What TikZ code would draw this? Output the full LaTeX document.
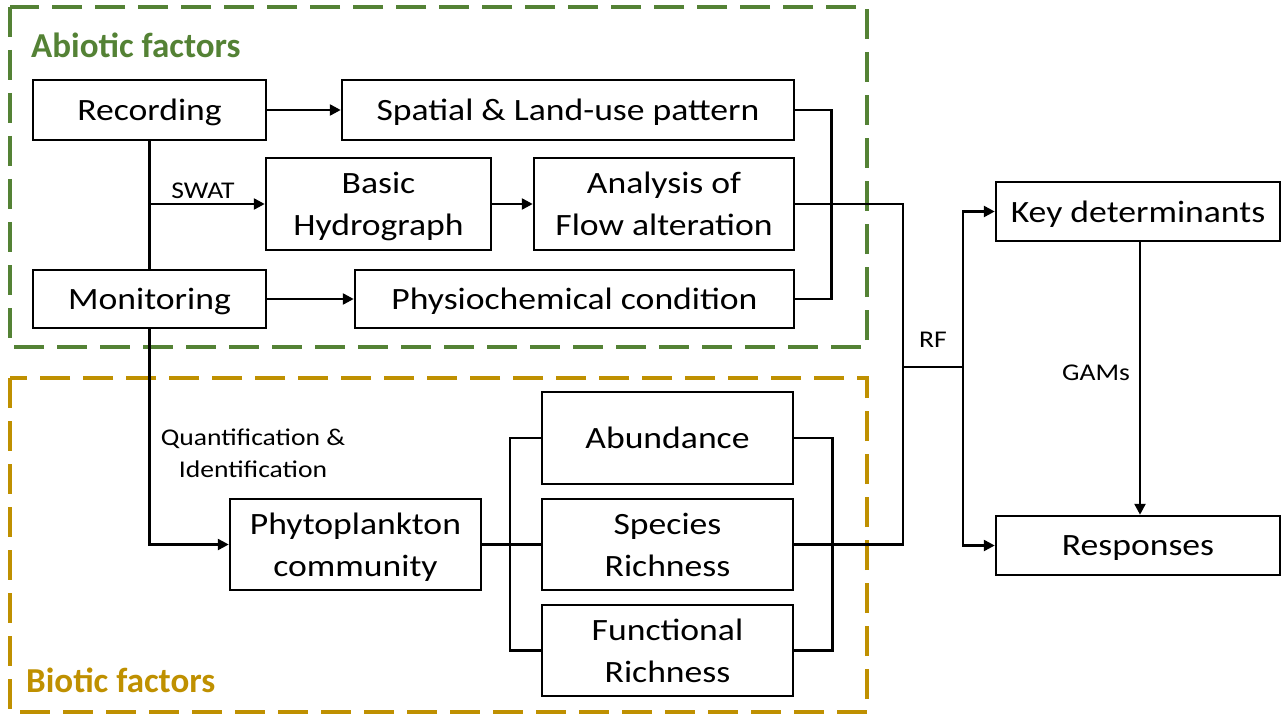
\documentclass[tikz,border=0pt]{standalone}
\usepackage{fontspec}
\setmainfont[FakeStretch=1.15]{Carlito}
\newfontfamily\titlefont{Carlito}
\usetikzlibrary{arrows.meta}
\definecolor{abio}{HTML}{548235}
\definecolor{bio}{HTML}{BF9000}
\tikzset{
  box/.style={draw=black, line width=2.5pt, fill=white, align=center, inner sep=0pt,
    font=\fontsize{31}{42}\selectfont, text depth=0pt},
  conn/.style={line width=2.5pt},
  arr/.style={line width=2.5pt, -{Triangle[length=11pt,width=11pt]}},
  lbl/.style={font=\fontsize{24}{32}\selectfont, inner sep=0pt, align=center},
  frame/.style={line width=3.5pt, dash pattern=on 30pt off 13pt},
  title/.style={font=\titlefont\fontsize{35}{40}\selectfont\bfseries, inner sep=0pt, anchor=west}
}
\begin{document}
\begin{tikzpicture}[x=1pt,y=-1pt]
\useasboundingbox (0,0) rectangle (1282,714);
% frames
\draw[frame, abio] (10,7) rectangle (867,347);
\draw[frame, bio] (10,378) rectangle (867,712);
\node[title, text=abio] (tabio) at (31,45) {Abiotic factors};
\node[title, text=bio] (tbio) at (26,680) {Biotic factors};
% boxes
\node[box, minimum width=233pt, minimum height=60pt] (rec) at (149.5,110) {Recording};
\node[box, minimum width=452pt, minimum height=60pt] (spatial) at (568,110) {Spatial \& Land-use pattern};
\node[box, minimum width=225pt, minimum height=92pt] (hydro) at (378.5,204) {Basic\\Hydrograph};
\node[box, minimum width=260pt, minimum height=92pt] (flow) at (664,204) {Analysis of\\Flow alteration};
\node[box, minimum width=233pt, minimum height=58pt] (mon) at (149.5,299) {Monitoring};
\node[box, minimum width=439pt, minimum height=58pt] (phys) at (574.5,299) {Physiochemical condition};
\node[box, minimum width=251pt, minimum height=91pt] (phyto) at (355.5,544.5) {Phytoplankton\\community};
\node[box, minimum width=251pt, minimum height=92pt] (abund) at (667.5,438) {Abundance};
\node[box, minimum width=251pt, minimum height=91pt] (species) at (667.5,544.5) {Species\\Richness};
\node[box, minimum width=251pt, minimum height=91pt] (func) at (667.5,650.5) {Functional\\Richness};
\node[box, minimum width=284pt, minimum height=59pt] (key) at (1138,211.5) {Key determinants};
\node[box, minimum width=284pt, minimum height=59pt] (resp) at (1138,545.5) {Responses};
% labels
\node[lbl] (lswat) at (203,191) {SWAT};
\node[lbl] (lquant) at (253,453) {Quantification \&\\Identification};
\node[lbl] (lrf) at (933,340) {RF};
\node[lbl] (lgam) at (1096,373) {GAMs};
% junctions
\coordinate (j) at (903,367);
\coordinate (k) at (963,367);
% abiotic connectors
\draw[conn] (rec.south) -- (mon.north);
\draw[arr] (rec.south |- hydro.west) -- (hydro.west);
\draw[arr] (rec.east) -- (spatial.west);
\draw[arr] (hydro.east) -- (flow.west);
\draw[arr] (mon.east) -- (phys.west);
\draw[arr] (mon.south) |- (phyto.west);
\draw[conn] (spatial.east) -- ++(36,0) |- (phys.east);
\draw[conn] (flow.east) -| (j);
% biotic connectors
\draw[conn] (phyto.east) -- (species.west);
\draw[conn] (abund.west) -- ++(-31,0) |- (func.west);
\draw[conn] (abund.east) -- ++(38,0) |- (func.east);
\draw[conn] (species.east) -| (j);
% right side
\draw[conn] (j) -- (k);
\draw[arr] (k) |- (key.west);
\draw[arr] (k) |- (resp.west);
\draw[arr] (key.south -| 1140,0) -- (resp.north -| 1140,0);
\end{tikzpicture}
\end{document}
